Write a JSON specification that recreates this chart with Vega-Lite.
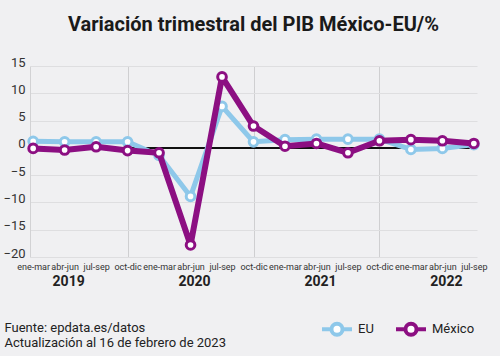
{
  "$schema": "https://vega.github.io/schema/vega-lite/v6.json",
  "width": 447,
  "height": 191,
  "autosize": {"type": "none"},
  "padding": {"left": 30, "top": 66, "right": 23, "bottom": 99},
  "background": "#f0f0f2",
  "config": {
    "view": {"stroke": null},
    "axisY": {
      "tickCount": 8,
      "labelOverlap": false,
      "grid": true, "gridColor": "#dedee0", "gridWidth": 1,
      "domain": true, "domainColor": "#d2d2d4", "ticks": false,
      "labelBaseline": "alphabetic", "labelPadding": 5,
      "labelFont": "Roboto", "labelFontSize": 13, "labelColor": "#333333"
    }
  },
  "title": {
    "text": "Variación trimestral del PIB México-EU/%",
    "font": "Roboto",
    "fontSize": 20,
    "fontWeight": "bold",
    "color": "#1a1a1a",
    "anchor": "middle",
    "baseline": "alphabetic",
    "offset": 5
  },
  "datasets": {
    "anios": [
      {"periodo": "abr-jun 2019", "anio": "2019"},
      {"periodo": "abr-jun 2020", "anio": "2020"},
      {"periodo": "abr-jun 2021", "anio": "2021"},
      {"periodo": "abr-jun 2022", "anio": "2022"}
    ]
  },
  "data": {
    "values": [
      {"periodo": "ene-mar 2019", "serie": "EU", "valor": 1.2},
      {"periodo": "abr-jun 2019", "serie": "EU", "valor": 1.1},
      {"periodo": "jul-sep 2019", "serie": "EU", "valor": 1.1},
      {"periodo": "oct-dic 2019", "serie": "EU", "valor": 1.1},
      {"periodo": "ene-mar 2020", "serie": "EU", "valor": -1.4},
      {"periodo": "abr-jun 2020", "serie": "EU", "valor": -8.9},
      {"periodo": "jul-sep 2020", "serie": "EU", "valor": 7.6},
      {"periodo": "oct-dic 2020", "serie": "EU", "valor": 1.1},
      {"periodo": "ene-mar 2021", "serie": "EU", "valor": 1.5},
      {"periodo": "abr-jun 2021", "serie": "EU", "valor": 1.6},
      {"periodo": "jul-sep 2021", "serie": "EU", "valor": 1.6},
      {"periodo": "oct-dic 2021", "serie": "EU", "valor": 1.6},
      {"periodo": "ene-mar 2022", "serie": "EU", "valor": -0.3},
      {"periodo": "abr-jun 2022", "serie": "EU", "valor": -0.1},
      {"periodo": "jul-sep 2022", "serie": "EU", "valor": 0.6},
      {"periodo": "ene-mar 2019", "serie": "México", "valor": -0.1},
      {"periodo": "abr-jun 2019", "serie": "México", "valor": -0.4},
      {"periodo": "jul-sep 2019", "serie": "México", "valor": 0.2},
      {"periodo": "oct-dic 2019", "serie": "México", "valor": -0.5},
      {"periodo": "ene-mar 2020", "serie": "México", "valor": -0.9},
      {"periodo": "abr-jun 2020", "serie": "México", "valor": -17.8},
      {"periodo": "jul-sep 2020", "serie": "México", "valor": 13.0},
      {"periodo": "oct-dic 2020", "serie": "México", "valor": 4.0},
      {"periodo": "ene-mar 2021", "serie": "México", "valor": 0.3},
      {"periodo": "abr-jun 2021", "serie": "México", "valor": 0.8},
      {"periodo": "jul-sep 2021", "serie": "México", "valor": -0.9},
      {"periodo": "oct-dic 2021", "serie": "México", "valor": 1.3},
      {"periodo": "ene-mar 2022", "serie": "México", "valor": 1.5},
      {"periodo": "abr-jun 2022", "serie": "México", "valor": 1.3},
      {"periodo": "jul-sep 2022", "serie": "México", "valor": 0.8}
    ]
  },
  "layer": [
    {
      "mark": {"type": "rule", "color": "#111111", "strokeWidth": 1.5},
      "encoding": {
        "y": {"datum": 0, "type": "quantitative"}
      }
    },
    {
      "transform": [{"filter": "datum.serie == 'EU'"}],
      "mark": {"type": "line", "strokeWidth": 5, "strokeJoin": "round"},
      "encoding": {
        "x": {"field": "periodo", "type": "ordinal",
          "scale": {"type": "point", "padding": 0.1, "domain": ["ene-mar 2019","abr-jun 2019","jul-sep 2019","oct-dic 2019","ene-mar 2020","abr-jun 2020","jul-sep 2020","oct-dic 2020","ene-mar 2021","abr-jun 2021","jul-sep 2021","oct-dic 2021","ene-mar 2022","abr-jun 2022","jul-sep 2022"]},
          "axis": {
            "labelExpr": "split(datum.value, ' ')[0]",
            "labelAngle": 0, "ticks": false, "domain": false, "labelOverlap": false,
            "grid": true, "gridColor": "#cfcfd1",
            "gridOpacity": {"condition": {"test": "indexof(datum.value, 'oct-dic') == 0", "value": 1}, "value": 0},
            "labelFont": "Roboto",
            "labelFontSize": 9, "labelColor": "#333333", "labelPadding": 5,
            "title": ["Fuente: epdata.es/datos", "Actualización al 16 de febrero de 2023"],
            "titleAnchor": "start", "titleAlign": "left", "titleX": -26, "titleY": 64,
            "titleBaseline": "top", "titleFont": "Roboto", "titleFontSize": 13,
            "titleFontWeight": "normal", "titleColor": "#222222", "titleLineHeight": 15
          }
        },
        "y": {"field": "valor", "type": "quantitative", "title": null,
          "scale": {"domain": [-20, 15], "nice": false, "zero": false}},
        "stroke": {"field": "serie", "type": "nominal",
          "scale": {"domain": ["EU", "México"], "range": ["#8ec8ea", "#8c0f82"]},
          "legend": {
            "orient": "none", "legendX": 290, "legendY": 246, "direction": "horizontal",
            "title": null, "padding": 0,
            "symbolType": "M-1,0L-0.37,0M0.37,0L1,0M0.37,0A0.37,0.37,0,1,1,-0.37,0A0.37,0.37,0,1,1,0.37,0Z",
            "symbolSize": 900, "symbolStrokeWidth": 4, "symbolFillColor": "white",
            "labelFont": "Roboto", "labelFontSize": 13, "labelColor": "#222222",
            "labelOffset": 4, "columnPadding": 14
          }
        }
      }
    },
    {
      "transform": [{"filter": "datum.serie == 'EU'"}],
      "mark": {"type": "point", "filled": true, "fill": "white", "size": 75, "strokeWidth": 3, "opacity": 1},
      "encoding": {
        "x": {"field": "periodo", "type": "ordinal"},
        "y": {"field": "valor", "type": "quantitative"},
        "stroke": {"field": "serie", "type": "nominal"}
      }
    },
    {
      "transform": [{"filter": "datum.serie == 'México'"}],
      "mark": {"type": "line", "strokeWidth": 6, "strokeJoin": "round"},
      "encoding": {
        "x": {"field": "periodo", "type": "ordinal"},
        "y": {"field": "valor", "type": "quantitative"},
        "stroke": {"field": "serie", "type": "nominal"}
      }
    },
    {
      "transform": [{"filter": "datum.serie == 'México'"}],
      "mark": {"type": "point", "filled": true, "fill": "white", "size": 75, "strokeWidth": 3, "opacity": 1},
      "encoding": {
        "x": {"field": "periodo", "type": "ordinal"},
        "y": {"field": "valor", "type": "quantitative"},
        "stroke": {"field": "serie", "type": "nominal"}
      }
    },
    {
      "data": {"name": "anios"},
      "mark": {"type": "text", "font": "Roboto", "fontSize": 14, "fontWeight": "bold", "color": "#222222", "baseline": "middle", "dx": 4},
      "encoding": {
        "x": {"field": "periodo", "type": "ordinal"},
        "y": {"datum": -24.5, "type": "quantitative"},
        "text": {"field": "anio"}
      }
    }
  ]
}
